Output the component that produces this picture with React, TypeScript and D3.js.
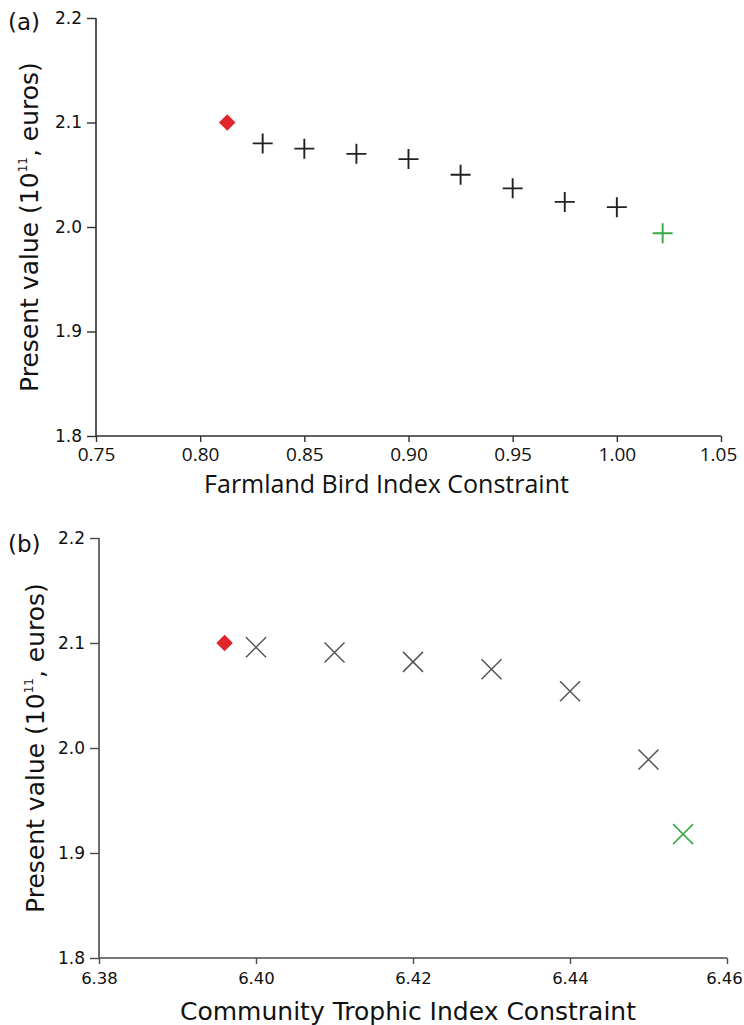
import React, { useEffect, useRef } from "react";
import * as d3 from "d3";

// panel (a): Farmland Bird Index
const fbiX = [0.83, 0.85, 0.875, 0.9, 0.925, 0.95, 0.975, 1.0];
const fbiY = [2.080, 2.075, 2.070, 2.065, 2.050, 2.037, 2.024, 2.019];
const fbiBase = [0.813, 2.1];
const fbiEnd = [1.022, 1.994];
const fbiXTicks = [0.75, 0.8, 0.85, 0.9, 0.95, 1.0, 1.05];

// panel (b): Community Trophic Index
const ctiX = [6.4, 6.41, 6.42, 6.43, 6.44, 6.45];
const ctiY = [2.096, 2.091, 2.082, 2.075, 2.054, 1.989];
const ctiBase = [6.396, 2.1];
const ctiEnd = [6.4544, 1.918];
const ctiXTicks = [6.38, 6.4, 6.42, 6.44, 6.46];

const yTicks = [1.8, 1.9, 2.0, 2.1, 2.2];

const RED = "#e0262a";
const GREEN = "#3aa845";
const WIDE = "'DejaVu Sans', Verdana, sans-serif";
const NARROW = "'Open Sans', sans-serif";

type Panel = {
  label: string;
  labelY: number;
  title: string;
  titleFont: string;
  titleDx: number;
  titleDy: number;
  left: number;
  right: number;
  top: number;
  bottom: number;
  xDomain: [number, number];
  xTicks: number[];
  xs: number[];
  ys: number[];
  base: number[];
  end: number[];
  marker: "plus" | "cross";
  xTickFont: string;
  xTickSize: string;
  xTickPad: number;
  axisColor: string;
  yTitleX: number;
};

const panels: Panel[] = [
  {
    label: "(a)", labelY: 30,
    title: "Farmland Bird Index Constraint", titleFont: NARROW, titleDx: -22, titleDy: 57,
    left: 96, right: 721, top: 18, bottom: 436,
    xDomain: [0.75, 1.05], xTicks: fbiXTicks,
    xs: fbiX, ys: fbiY, base: fbiBase, end: fbiEnd,
    marker: "plus", xTickFont: NARROW, xTickSize: "19px", xTickPad: 6,
    axisColor: "#2e2e2e", yTitleX: 38,
  },
  {
    label: "(b)", labelY: 552,
    title: "Community Trophic Index Constraint", titleFont: WIDE, titleDx: -5, titleDy: 62,
    left: 99, right: 727, top: 538, bottom: 958,
    xDomain: [6.38, 6.46], xTicks: ctiXTicks,
    xs: ctiX, ys: ctiY, base: ctiBase, end: ctiEnd,
    marker: "cross", xTickFont: WIDE, xTickSize: "16.5px", xTickPad: 8,
    axisColor: "#4a4a4a", yTitleX: 44,
  },
];

function drawPanel(svg: d3.Selection<SVGSVGElement, unknown, null, undefined>, p: Panel) {
  const x = d3.scaleLinear().domain(p.xDomain).range([p.left, p.right]);
  const y = d3.scaleLinear().domain([1.8, 2.2]).range([p.bottom, p.top]);
  const g = svg.append("g");

  const yAxis = g.append("g")
    .attr("transform", `translate(${p.left},0)`)
    .call(d3.axisLeft(y).tickValues(yTicks).tickFormat(d3.format(".1f")).tickSize(9).tickPadding(5));
  const xAxis = g.append("g")
    .attr("transform", `translate(0,${p.bottom})`)
    .call(d3.axisBottom(x).tickValues(p.xTicks).tickFormat(d3.format(".2f")).tickSize(6).tickPadding(p.xTickPad));

  yAxis.select(".domain").attr("d", `M0,${p.top}V${p.bottom}`);
  xAxis.select(".domain").attr("d", `M${p.left},0H${p.right}`);
  [yAxis, xAxis].forEach((a) => {
    a.select(".domain").attr("stroke", p.axisColor).attr("stroke-width", 1.6);
    a.selectAll(".tick line").attr("stroke", p.axisColor).attr("stroke-width", 1.4);
    a.selectAll(".tick text").attr("fill", "#111");
  });
  yAxis.selectAll(".tick text").style("font-family", WIDE).style("font-size", "17px");
  xAxis.selectAll(".tick text").style("font-family", p.xTickFont).style("font-size", p.xTickSize);
  // keep the last tick label inside the page
  xAxis.selectAll(".tick:last-of-type text").attr("x", -3);

  // panel label
  g.append("text").attr("x", 8).attr("y", p.labelY).style("font-family", WIDE)
    .style("font-size", "23px").attr("fill", "#111").text(p.label);

  // y title
  const yt = g.append("text")
    .attr("transform", `translate(${p.yTitleX},${(p.top + p.bottom) / 2}) rotate(-90)`)
    .attr("text-anchor", "middle").style("font-family", WIDE).style("font-size", "25px").attr("fill", "#111");
  yt.append("tspan").text("Present  value (10");
  yt.append("tspan").attr("dy", -11).style("font-size", "12px").text("11");
  yt.append("tspan").attr("dy", 11).text(", euros)");

  // x title
  g.append("text")
    .attr("x", (p.left + p.right) / 2 + p.titleDx).attr("y", p.bottom + p.titleDy)
    .attr("text-anchor", "middle").style("font-family", p.titleFont).style("font-size", "25px")
    .attr("fill", "#111").text(p.title);

  // markers
  const pts = p.xs.map((v, i) => ({ x: v, y: p.ys[i], green: false }));
  pts.push({ x: p.end[0], y: p.end[1], green: true });
  const r = 10;
  g.append("g").selectAll("path").data(pts).join("path")
    .attr("d", (d) => {
      const cx = x(d.x), cy = y(d.y);
      return p.marker === "plus"
        ? `M${cx - r},${cy}H${cx + r}M${cx},${cy - r}V${cy + r}`
        : `M${cx - r},${cy - r}L${cx + r},${cy + r}M${cx - r},${cy + r}L${cx + r},${cy - r}`;
    })
    .attr("fill", "none")
    .attr("stroke", (d) => (d.green ? GREEN : p.marker === "plus" ? "#222" : "#555"))
    .attr("stroke-width", p.marker === "plus" ? 1.9 : 1.5);

  const sym = d3.symbol().type(d3.symbolDiamond2).size(175);
  g.append("path").attr("d", sym() as string)
    .attr("transform", `translate(${x(p.base[0])},${y(p.base[1])})`)
    .attr("fill", RED);
}

export default function App() {
  const ref = useRef<SVGSVGElement>(null);
  useEffect(() => {
    const svg = d3.select(ref.current!);
    svg.selectAll("*").remove();
    panels.forEach((p) => drawPanel(svg as any, p));
  }, []);
  return (
    <svg ref={ref} width={744} height={1025}
      style={{ position: "absolute", left: 0, top: 0, background: "#fff" }} />
  );
}
